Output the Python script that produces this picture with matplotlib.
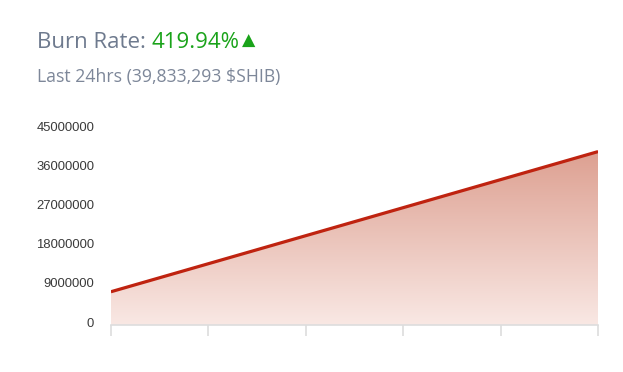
import matplotlib
matplotlib.use("Agg")
import matplotlib.pyplot as plt
import matplotlib.transforms as mtransforms
import numpy as np
from matplotlib.patches import Polygon

# Data
x_points = [0, 5]
burn_values = [7661000, 39833293]
y_ticks = [0, 9000000, 18000000, 27000000, 36000000, 45000000]
x_ticks = [0, 1, 2, 3, 4, 5]
title_label = "Burn Rate: "
title_value = "419.94%"
title_arrow = "▲"
subtitle = "Last 24hrs (39,833,293 $SHIB)"

fig = plt.figure(figsize=(6.23, 3.72), dpi=100)
ax = fig.add_axes([0.178, 0.126, 0.782, 0.527])

line_color = "#bf2310"
ax.plot(x_points, burn_values, color=line_color, lw=2.3, solid_capstyle="butt", zorder=3)

# gradient fill under line
ymax = 45000000
grad = np.linspace(0, 1, 256).reshape(-1, 1)
top = np.array([221, 160, 145]) / 255
bot = np.array([249, 232, 228]) / 255
img = bot + (top - bot) * grad
img = img.reshape(256, 1, 3)
ext_top = max(burn_values)
im = ax.imshow(img, extent=[x_points[0], x_points[-1], 0, ext_top], origin="lower",
               aspect="auto", zorder=1)
poly = Polygon([(x_points[0], 0)] + list(zip(x_points, burn_values)) + [(x_points[-1], 0)],
               closed=True, facecolor="none", edgecolor="none")
ax.add_patch(poly)
im.set_clip_path(poly)

ax.set_xlim(0, 5)
ax.set_ylim(0, ymax)
ax.set_yticks(y_ticks)
ax.set_yticklabels([str(v) for v in y_ticks], fontsize=9.4, color="#3a3a3a",
                   family=["Liberation Sans", "DejaVu Sans"])
ax.set_xticks(x_ticks)
ax.set_xticklabels([])
ax.tick_params(axis="y", length=0, pad=12)
ax.tick_params(axis="x", length=8, color="#dddddd", width=1.2, direction="out")
offset = mtransforms.ScaledTranslation(0, 3 / 100, fig.dpi_scale_trans)
for tk in ax.yaxis.get_major_ticks():
    tk.label1.set_transform(tk.label1.get_transform() + offset)
for s in ["top", "right", "left"]:
    ax.spines[s].set_visible(False)
ax.spines["bottom"].set_color("#dddddd")
ax.spines["bottom"].set_linewidth(1.2)
ax.set_facecolor("white")

# Titles
fam = ["Open Sans", "DejaVu Sans"]
t1 = fig.text(37 / 623, 1 - 42 / 372, title_label, fontsize=16, color="#6e7a8e",
              family=fam, va="center", ha="left")
fig.canvas.draw()
bb = t1.get_window_extent()
t2 = fig.text(bb.x1 / fig.bbox.width, 1 - 42 / 372, title_value, fontsize=16, color="#1aa31a",
              family=fam, va="center", ha="left")
fig.canvas.draw()
bb2 = t2.get_window_extent()
fig.text((bb2.x1 + 2) / fig.bbox.width, 1 - 41 / 372, title_arrow, fontsize=12.5, color="#1aa31a",
         family=["DejaVu Sans"], va="center", ha="left")
fig.text(37 / 623, 1 - 77 / 372, subtitle, fontsize=12.7, color="#7d8799",
         family=fam, va="center", ha="left")

fig.savefig("out.png", dpi=100, facecolor="white")
